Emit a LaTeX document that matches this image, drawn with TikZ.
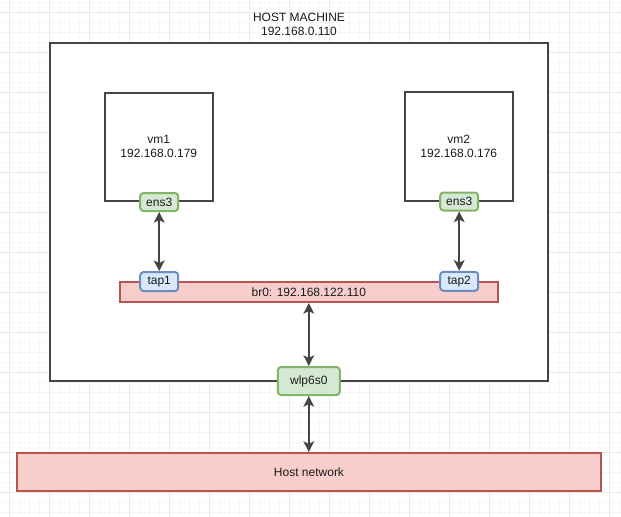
\documentclass[tikz,border=0pt]{standalone}
\usepackage{fontspec}
\setmainfont{Liberation Sans}
\usetikzlibrary{arrows.meta}
\definecolor{edgegray}{HTML}{444444}
\definecolor{gfill}{HTML}{D5E8D4}
\definecolor{gline}{HTML}{82B366}
\definecolor{bfill}{HTML}{DAE8FC}
\definecolor{bline}{HTML}{6C8EBF}
\definecolor{rfill}{HTML}{F8CECC}
\definecolor{rline}{HTML}{B85450}
\definecolor{minorgrid}{HTML}{F6F6F6}
\definecolor{majorgrid}{HTML}{EAEAEA}
\definecolor{txt}{HTML}{1A1A1A}
\tikzset{
  every node/.style={font=\fontsize{9pt}{10.5pt}\selectfont, text=txt, inner sep=0pt, align=center},
  plainbox/.style={draw=edgegray, line width=1.5pt, fill=white},
  greenbox/.style={draw=gline, fill=gfill, line width=1.5pt, rounded corners=2.5pt},
  bluebox/.style={draw=bline, fill=bfill, line width=1.5pt, rounded corners=2.5pt},
  redbox/.style={draw=rline, fill=rfill, line width=1.5pt},
  link/.style={draw=edgegray, line width=1.5pt, {Stealth[length=8pt,width=8pt,inset=2pt]}-{Stealth[length=8pt,width=8pt,inset=2pt]}},
}
\begin{document}
\begin{tikzpicture}[x=0.75pt,y=-0.75pt]
\useasboundingbox (0,0) rectangle (621,517);
\fill[white] (0,0) rectangle (621,517);
% grid
\foreach \k in {0,...,62} {\draw[minorgrid, line width=0.75pt] ({-0.7+10*\k},0) -- ({-0.7+10*\k},517);}
\foreach \k in {0,...,51} {\draw[minorgrid, line width=0.75pt] (0,{2.7+10*\k}) -- (621,{2.7+10*\k});}
\foreach \k in {0,...,15} {\draw[majorgrid, line width=0.75pt] ({9.3+40*\k},0) -- ({9.3+40*\k},517);}
\foreach \k in {0,...,12} {\draw[majorgrid, line width=0.75pt] (0,{12.7+40*\k}) -- (621,{12.7+40*\k});}

% host machine
\node[plainbox, minimum width=373.5pt, minimum height=253.5pt] (host) at (299,212) {};
\node (hosttitle) at (299,24) {HOST MACHINE\\192.168.0.110};

% VMs
\node[plainbox, minimum width=81pt, minimum height=81pt] (vm1) at (158.8,146.8) {vm1\\192.168.0.179};
\node[plainbox, minimum width=81pt, minimum height=81pt] (vm2) at (458.8,146.5) {vm2\\192.168.0.176};

% bridge
\node[redbox, minimum width=283.5pt, minimum height=15pt] (br0) at (308.8,292) {br0: 192.168.122.110};

% interfaces
\node[greenbox, minimum width=28.5pt, minimum height=13.5pt] (ens3a) at (159.2,202) {ens3};
\node[greenbox, minimum width=28.5pt, minimum height=13.5pt] (ens3b) at (459.2,201.5) {ens3};
\node[bluebox, minimum width=28.5pt, minimum height=14.25pt] (tap1) at (159.2,281.6) {tap1};
\node[bluebox, minimum width=28.5pt, minimum height=14.25pt] (tap2) at (459.2,281.3) {tap2};
\node[greenbox, minimum width=46.5pt, minimum height=21pt] (wlp) at (308.8,381) {wlp6s0};

% host network
\node[redbox, minimum width=438pt, minimum height=28.5pt] (net) at (309,472) {Host network};

% links
\draw[link] (ens3a) -- (tap1);
\draw[link] (ens3b) -- (tap2);
\draw[link] (wlp) -- (wlp.north |- br0.south);
\draw[link] (wlp) -- (wlp.south |- net.north);
\end{tikzpicture}
\end{document}
